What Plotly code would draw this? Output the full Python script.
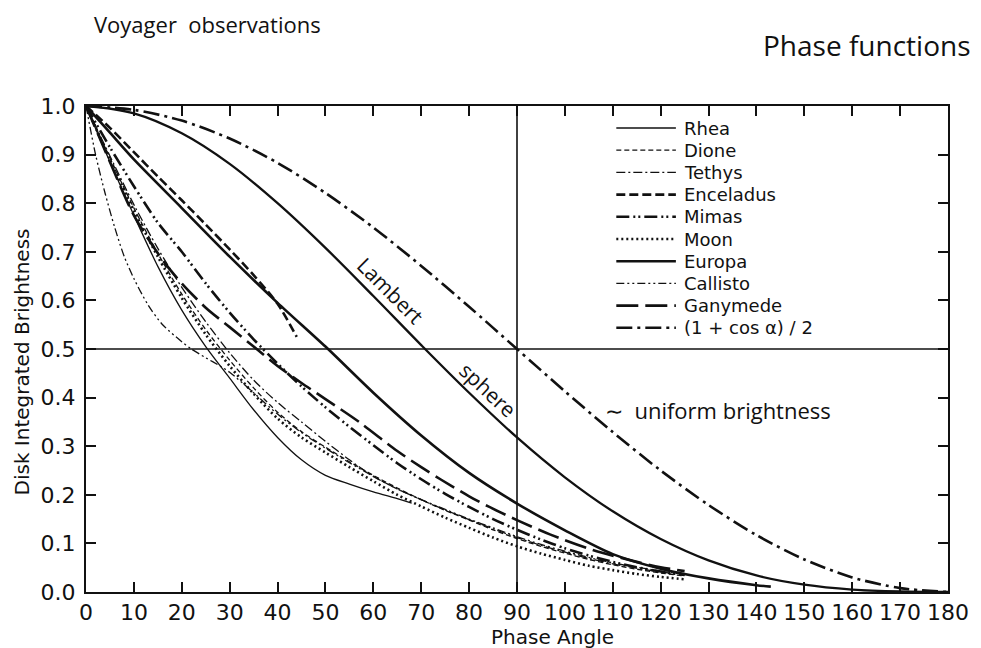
import plotly.graph_objects as go

# ---- phase-curve readings: phase angle (deg) vs disk-integrated brightness ----
rhea_x = [0, 5, 10, 15, 20, 25, 30, 35, 40, 45, 50, 55, 60, 65, 68]
rhea_y = [1.0, 0.885, 0.775, 0.67, 0.58, 0.505, 0.44, 0.375, 0.318, 0.272, 0.24,
          0.222, 0.206, 0.192, 0.183]

grid_x = [0, 5, 10, 15, 20, 25, 30, 35, 40, 45, 50, 55, 60, 65, 70, 75, 80, 85,
          90, 95, 100, 105, 110, 115, 120, 125]
dione_y = [1.0, 0.893, 0.79, 0.697, 0.613, 0.54, 0.477, 0.42, 0.37, 0.33, 0.298,
           0.268, 0.24, 0.214, 0.19, 0.168, 0.148, 0.128, 0.11, 0.094, 0.08,
           0.067, 0.056, 0.047, 0.039, 0.033]
tethys_y = [1.0, 0.897, 0.797, 0.707, 0.627, 0.556, 0.492, 0.436, 0.39, 0.35, 0.31,
            0.272, 0.238, 0.212, 0.19, 0.169, 0.149, 0.13, 0.112, 0.096, 0.082,
            0.069, 0.058, 0.049, 0.041, 0.035]
moon_y = [1.0, 0.89, 0.785, 0.69, 0.605, 0.53, 0.465, 0.408, 0.357, 0.318, 0.287,
          0.257, 0.228, 0.2, 0.176, 0.153, 0.132, 0.112, 0.094, 0.079, 0.066,
          0.054, 0.045, 0.037, 0.031, 0.026]
mimas_y = [1.0, 0.915, 0.835, 0.76, 0.7, 0.635, 0.575, 0.52, 0.47, 0.423, 0.38,
           0.34, 0.302, 0.265, 0.232, 0.202, 0.175, 0.15, 0.128, 0.108, 0.09,
           0.075, 0.062, 0.051, 0.042, 0.035]

enceladus_x = [0, 5, 10, 15, 20, 25, 30, 35, 40, 44]
enceladus_y = [1.0, 0.955, 0.905, 0.855, 0.806, 0.756, 0.705, 0.652, 0.593, 0.525]

callisto_x = [0, 2, 4, 6, 8, 10, 13, 16, 20, 22, 25, 28, 30, 35, 40, 45, 50, 55, 60,
              65, 70, 75, 80, 85, 90, 95, 100, 105, 110, 115, 120, 125]
callisto_y = [1.0, 0.9, 0.82, 0.75, 0.69, 0.645, 0.59, 0.55, 0.515, 0.5, 0.482,
              0.465, 0.452, 0.41, 0.366, 0.328, 0.296, 0.266, 0.238, 0.212, 0.19,
              0.17, 0.15, 0.132, 0.114, 0.098, 0.084, 0.071, 0.06, 0.051, 0.043,
              0.036]

europa_x = [0, 5, 10, 20, 30, 40, 50, 60, 70, 80, 90, 100, 110, 120, 130, 140, 143]
europa_y = [1.0, 0.945, 0.89, 0.79, 0.69, 0.595, 0.505, 0.41, 0.322, 0.245, 0.182,
            0.127, 0.078, 0.048, 0.028, 0.014, 0.011]

ganymede_x = [0, 5, 10, 16, 20, 25, 30, 35, 40, 45, 50, 57, 65, 70, 74, 80, 84, 90,
              97, 106, 115, 120, 125]
ganymede_y = [1.0, 0.885, 0.775, 0.683, 0.635, 0.585, 0.545, 0.505, 0.465, 0.43,
              0.397, 0.35, 0.29, 0.257, 0.232, 0.197, 0.176, 0.148, 0.118, 0.086,
              0.062, 0.051, 0.043]

ten_deg_x = [0, 10, 20, 30, 40, 50, 60, 70, 80, 90, 100, 110, 120, 130, 140, 150,
             160, 170, 180]
uniform_y = [1.0, 0.992, 0.97, 0.933, 0.883, 0.821, 0.75, 0.671, 0.587, 0.5, 0.413,
             0.329, 0.25, 0.179, 0.117, 0.067, 0.03, 0.008, 0.0]
lambert_y = [1.0, 0.985, 0.944, 0.881, 0.8, 0.708, 0.609, 0.508, 0.41, 0.318, 0.236,
             0.166, 0.109, 0.065, 0.034, 0.015, 0.005, 0.001, 0.0]

x_ticks = list(range(0, 181, 10))
y_ticks = [0.0, 0.1, 0.2, 0.3, 0.4, 0.5, 0.6, 0.7, 0.8, 0.9, 1.0]

INK = "#111111"
THIN, HEAVY = 1.3, 2.6

series = [
    ("Rhea", rhea_x, rhea_y, "solid", THIN),
    ("Dione", grid_x, dione_y, "5px,3px", THIN),
    ("Tethys", grid_x, tethys_y, "9px,3px,2px,3px", THIN),
    ("Enceladus", enceladus_x, enceladus_y, "9px,4px", HEAVY),
    ("Mimas", grid_x, mimas_y, "13px,4px,2px,3px,2px,4px", HEAVY),
    ("Moon", grid_x, moon_y, "2px,3px", HEAVY),
    ("Europa", europa_x, europa_y, "solid", HEAVY),
    ("Callisto", callisto_x, callisto_y, "8px,3px,2px,3px,2px,3px", THIN),
    ("Ganymede", ganymede_x, ganymede_y, "22px,7px", HEAVY),
    ("(1 + cos \u03b1) / 2", ten_deg_x, uniform_y, "16px,5px,3px,5px", HEAVY),
]

# page geometry (px)
W, H = 981, 648
L, R, T, B = 86, 27, 106, 56
PW, PH = W - L - R, H - T - B


def px(xp):
    return (xp - L) / PW


def py(yp):
    return (H - B - yp) / PH


fig = go.Figure()

# Lambert sphere reference curve (labelled on the curve itself)
fig.add_trace(go.Scatter(x=ten_deg_x, y=lambert_y, mode="lines", showlegend=False,
                         line=dict(color=INK, width=2.3, shape="spline")))

for name, xs, ys, dash, w in series:
    fig.add_trace(go.Scatter(x=xs, y=ys, mode="lines", name=name, showlegend=False,
                             line=dict(color=INK, width=w, dash=dash,
                                       shape="spline", smoothing=0.8)))

# key: a sample stroke and a name per series
for i, (name, _, _, dash, w) in enumerate(series):
    row = 128 + i * 22.2
    fig.add_shape(type="line", xref="paper", yref="paper",
                  x0=px(620), x1=px(680), y0=py(row), y1=py(row),
                  line=dict(color=INK, width=w, dash=dash))
    fig.add_annotation(text=name, xref="paper", yref="paper", x=px(686), y=py(row),
                       xanchor="left", yanchor="middle", showarrow=False,
                       font=dict(family="DejaVu Sans", size=18, color=INK))

# guide lines at half brightness and at 90 degrees
fig.add_shape(type="line", xref="x", yref="y", x0=0, x1=180, y0=0.5, y1=0.5,
              line=dict(color=INK, width=1.6))
fig.add_shape(type="line", xref="x", yref="y", x0=90, x1=90, y0=0, y1=1.0,
              line=dict(color=INK, width=1.6))

axis_font = dict(family="DejaVu Sans", size=22, color=INK)
fig.update_xaxes(range=[0, 180], tickvals=x_ticks, ticktext=[str(v) for v in x_ticks],
                 ticks="inside", ticklen=10, tickwidth=2, tickcolor=INK,
                 showline=True, linewidth=2, linecolor=INK, mirror="ticks",
                 showgrid=False, zeroline=False, tickfont=axis_font)
fig.update_yaxes(range=[0, 1.0], tickvals=y_ticks, ticktext=[f"{v:.1f}" for v in y_ticks],
                 ticks="inside", ticklen=10, tickwidth=2, tickcolor=INK,
                 showline=True, linewidth=2, linecolor=INK, mirror="ticks",
                 showgrid=False, zeroline=False, tickfont=axis_font,
                 ticklabelstandoff=4)

hand = "Open Sans"
notes = [
    dict(text="Phase Angle", x=556, y=637, size=20, family="DejaVu Sans", angle=0),
    dict(text="Disk Integrated Brightness", x=22, y=362, size=20, family="DejaVu Sans",
         angle=-90),
    dict(text="Voyager  observations", x=208, y=24, size=22, family=hand, angle=0),
    dict(text="Phase functions", x=872, y=45, size=28, family=hand, angle=0),
    dict(text="\u223c  uniform brightness", x=722, y=410, size=22, family=hand, angle=0),
    dict(text="Lambert", x=393, y=291, size=21, family=hand, angle=45),
    dict(text="sphere", x=491, y=390, size=21, family=hand, angle=43),
]
for n in notes:
    fig.add_annotation(text=n["text"], xref="paper", yref="paper",
                       x=px(n["x"]), y=py(n["y"]),
                       xanchor="center", yanchor="middle", showarrow=False,
                       textangle=n["angle"],
                       font=dict(family=n["family"], size=n["size"], color=INK))

fig.update_layout(
    width=W, height=H,
    margin=dict(l=L, r=R, t=T, b=B, pad=0),
    paper_bgcolor="white", plot_bgcolor="white",
    font=dict(family="DejaVu Sans", color=INK),
    showlegend=False,
)

fig.write_html("out.html")
